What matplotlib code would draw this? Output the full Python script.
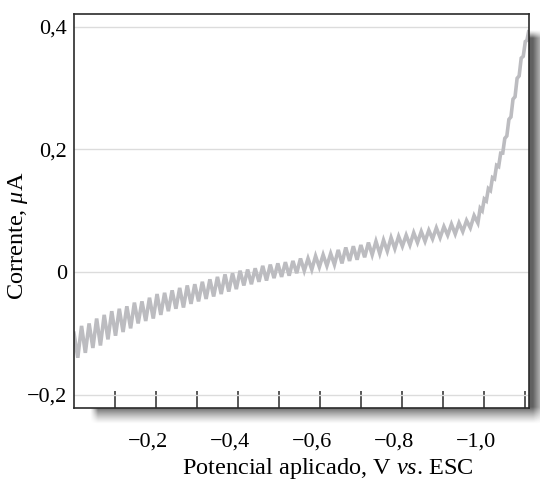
import numpy as np
import matplotlib
matplotlib.use("Agg")
import matplotlib.pyplot as plt
from matplotlib.transforms import ScaledTranslation

plt.rcParams["font.family"] = ["Liberation Serif", "DejaVu Serif"]
plt.rcParams["mathtext.fontset"] = "custom"
plt.rcParams["mathtext.rm"] = "Liberation Serif"
plt.rcParams["mathtext.it"] = "Liberation Serif:italic"

# Applied potential (V vs. SCE) and measured current (uA), vertex by vertex
potential = [
    0.0, -0.0092, -0.0184, -0.0276, -0.0368, -0.046, -0.0552, -0.0644, -0.0736, -0.0828,
    -0.092, -0.1012, -0.1104, -0.1196, -0.1288, -0.138, -0.1472, -0.1564, -0.1656, -0.1748,
    -0.184, -0.1932, -0.2024, -0.2116, -0.2208, -0.23, -0.2392, -0.2484, -0.2576, -0.2668,
    -0.276, -0.2852, -0.2944, -0.3036, -0.3128, -0.322, -0.3312, -0.3404, -0.3496, -0.3588,
    -0.368, -0.3772, -0.3864, -0.3956, -0.4048, -0.414, -0.4232, -0.4324, -0.4416, -0.4508,
    -0.46, -0.4692, -0.4784, -0.4876, -0.4968, -0.506, -0.5152, -0.5244, -0.5336, -0.5428,
    -0.552, -0.5612, -0.5704, -0.5796, -0.5888, -0.598, -0.6072, -0.6164, -0.6256, -0.6348,
    -0.644, -0.6532, -0.6624, -0.6716, -0.6808, -0.69, -0.6992, -0.7084, -0.7176, -0.7268,
    -0.736, -0.7452, -0.7544, -0.7636, -0.7728, -0.782, -0.7912, -0.8004, -0.8096, -0.8188,
    -0.828, -0.8372, -0.8464, -0.8556, -0.8648, -0.874, -0.8832, -0.8924, -0.9016, -0.9108,
    -0.92, -0.9292, -0.9384, -0.9476, -0.9568, -0.966, -0.9752, -0.9844,
    -0.990, -0.995, -1.000, -1.005, -1.010, -1.015, -1.020, -1.025, -1.030, -1.035,
    -1.040, -1.045, -1.050, -1.055, -1.060, -1.065, -1.070, -1.075, -1.080, -1.085,
    -1.090, -1.095, -1.100, -1.104, -1.108,
]
current = [
    -0.100, -0.140, -0.088, -0.132, -0.084, -0.124, -0.076, -0.120, -0.070, -0.110,
    -0.064, -0.104, -0.060, -0.098, -0.056, -0.092, -0.050, -0.084, -0.048, -0.080,
    -0.042, -0.076, -0.036, -0.070, -0.034, -0.064, -0.030, -0.060, -0.026, -0.058,
    -0.022, -0.052, -0.020, -0.048, -0.016, -0.044, -0.012, -0.040, -0.008, -0.036,
    -0.004, -0.032, -0.002, -0.028, 0.002, -0.022, 0.004, -0.020, 0.006, -0.016,
    0.010, -0.014, 0.012, -0.010, 0.014, -0.008, 0.016, -0.006, 0.018, -0.002,
    0.022, 0.002, 0.022, 0.004, 0.026, 0.008, 0.028, 0.010, 0.030, 0.012,
    0.036, 0.014, 0.040, 0.018, 0.042, 0.020, 0.044, 0.024, 0.048, 0.028,
    0.050, 0.030, 0.052, 0.034, 0.056, 0.038, 0.058, 0.042, 0.060, 0.044,
    0.064, 0.048, 0.066, 0.050, 0.068, 0.054, 0.072, 0.056, 0.074, 0.060,
    0.078, 0.062, 0.080, 0.066, 0.084, 0.072, 0.092, 0.080,
    0.104, 0.100, 0.119, 0.116, 0.136, 0.133, 0.154, 0.152, 0.174, 0.172,
    0.194, 0.194, 0.218, 0.222, 0.249, 0.253, 0.282, 0.286, 0.316, 0.320,
    0.349, 0.352, 0.376, 0.378, 0.392,
]

x_major = [-0.2, -0.4, -0.6, -0.8, -1.0]
x_major_labels = ["\u22120,2", "\u22120,4", "\u22120,6", "\u22120,8", "\u22121,0"]
x_minor = [-0.1, -0.3, -0.5, -0.7, -0.9, -1.1]
y_ticks = [-0.2, 0.0, 0.2, 0.4]
y_tick_labels = ["\u22120,2", "0", "0,2", "0,4"]

W, H, DPI = 540, 480, 100
fig = plt.figure(figsize=(W / DPI, H / DPI), dpi=DPI)
fig.patch.set_facecolor("white")

# Plot frame in figure pixels (from top-left)
L, R, T, B = 74, 529, 14, 408

# Drop shadow behind the plot frame
bg = fig.add_axes([0, 0, 1, 1], zorder=0)
bg.set_axis_off()
px, py = np.meshgrid(np.arange(W) + 0.5, np.arange(H) + 0.5)
off = 16
dark = (np.clip((R + off + 5 - px) / 17.0, 0, 1)
        * np.clip((B + off - py) / 17.0, 0, 1)
        * np.clip((px - (L + off)) / 8.0, 0, 1)
        * np.clip((py - (T + off)) / 8.0, 0, 1))
shade = 1.0 - 0.62 * dark ** 1.3
bg.imshow(shade, cmap="gray", vmin=0, vmax=1, extent=[0, W, H, 0],
          interpolation="bilinear", aspect="auto")
bg.set_xlim(0, W)
bg.set_ylim(H, 0)

ax = fig.add_axes([L / W, 1 - B / H, (R - L) / W, (B - T) / H], zorder=2)
ax.set_facecolor("white")

ax.plot(potential, current, color="#bcbcc0", lw=2.6, solid_joinstyle="miter",
        zorder=3)

ax.set_xlim(0, -1.109)
ax.set_ylim(-0.222, 0.421)

ax.set_yticks(y_ticks)
ax.set_yticklabels(y_tick_labels)
ax.set_xticks(x_major)
ax.set_xticklabels(x_major_labels)
ax.set_xticks(x_minor, minor=True)

ax.grid(axis="y", color="#dcdcdc", lw=1.0, zorder=1)
ax.set_axisbelow(True)

ax.tick_params(axis="y", which="both", length=0, pad=5, labelsize=16)
ax.tick_params(axis="x", which="both", direction="in", length=12, width=1.1,
               color="#2b2b2b", top=False, pad=18, labelsize=16)

shift = ScaledTranslation(-8 / DPI, 0, fig.dpi_scale_trans)
for lab in ax.get_xticklabels():
    lab.set_transform(lab.get_transform() + shift)

for s in ax.spines.values():
    s.set_color("#2b2b2b")
    s.set_linewidth(1.2)
    s.set_zorder(4)

ax.set_xlabel("Potencial aplicado, V $\\mathit{vs}$. ESC", fontsize=17.5)
ax.xaxis.set_label_coords((328 - L) / (R - L), -(456 - B) / (B - T))
ax.set_ylabel("Corrente, $\\mu$A", fontsize=17.5)
ax.yaxis.set_label_coords(-(74 - 30) / (R - L), (B - 236) / (B - T))

fig.savefig("out.png", dpi=DPI, facecolor="white")
